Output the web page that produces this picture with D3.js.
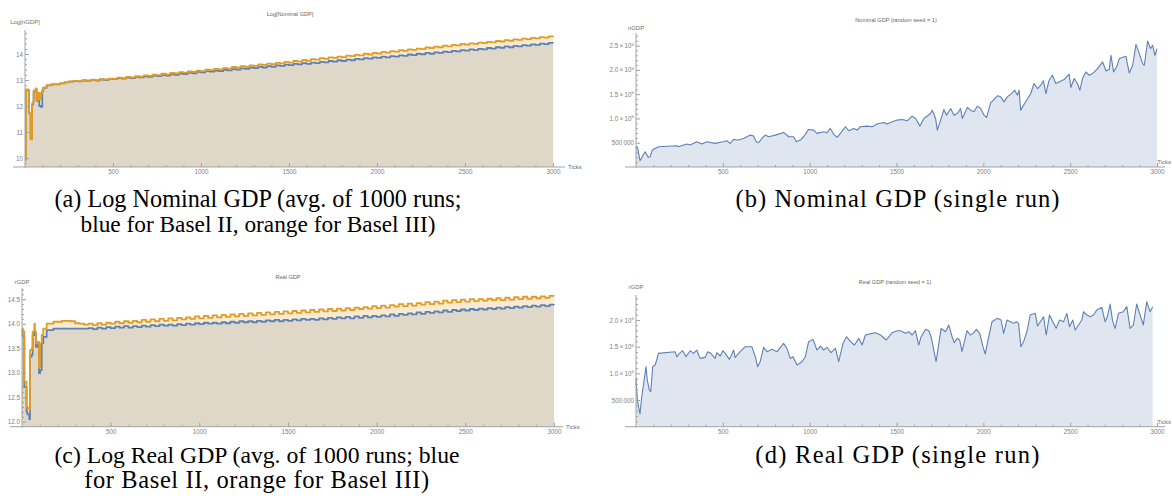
<!DOCTYPE html>
<html>
<head>
<meta charset="utf-8">
<script src="https://cdnjs.cloudflare.com/ajax/libs/d3/7.8.5/d3.min.js"></script>
<style>
body{margin:0;background:#fff;}
</style>
</head>
<body>
<svg width="1172" height="500"></svg>
<script>
// sampling grid of the averaged runs after the start-up phase
var tickGrid = d3.range(250, 3001, 25);

// (a) log nominal GDP, avg of 1000 runs
var nomEarlyTicks = [0, 6, 19, 23, 30, 32, 38, 40, 47, 49, 61, 66, 76, 81, 89, 98, 104, 123, 150, 200, 225];
var nomBasel2 = [9.95, 12.62, 12.60, 11.72, 11.72, 10.75, 10.75, 12.05, 12.15, 12.55, 12.65, 12.20, 12.45, 12.00, 11.97, 12.58, 12.70, 12.79, 12.83, 12.87, 12.91,
  12.94, 12.96, 12.95, 12.98, 12.97, 13.00, 12.98, 13.02, 13.00, 13.04,
  13.03, 13.07, 13.05, 13.09, 13.07, 13.12, 13.10, 13.14, 13.12, 13.17,
  13.15, 13.19, 13.17, 13.22, 13.20, 13.25, 13.23, 13.28, 13.26, 13.31,
  13.29, 13.34, 13.32, 13.36, 13.34, 13.39, 13.37, 13.42, 13.40, 13.45,
  13.43, 13.48, 13.46, 13.51, 13.48, 13.53, 13.51, 13.56, 13.54, 13.59,
  13.57, 13.62, 13.60, 13.65, 13.62, 13.67, 13.65, 13.70, 13.68, 13.73,
  13.71, 13.76, 13.73, 13.78, 13.76, 13.81, 13.79, 13.84, 13.82, 13.87,
  13.85, 13.90, 13.87, 13.92, 13.90, 13.95, 13.93, 13.98, 13.96, 14.01,
  13.99, 14.04, 14.01, 14.06, 14.04, 14.09, 14.07, 14.12, 14.10, 14.15,
  14.13, 14.18, 14.15, 14.20, 14.18, 14.23, 14.21, 14.26, 14.24, 14.29,
  14.26, 14.31, 14.29, 14.34, 14.32, 14.37, 14.35, 14.40, 14.38, 14.43,
  14.41];
var nomBasel3 = [9.92, 12.64, 12.62, 11.72, 11.72, 10.72, 10.72, 12.10, 12.17, 12.60, 12.68, 12.23, 12.50, 12.25, 12.50, 12.62, 12.72, 12.80, 12.84, 12.88, 12.92,
  12.95, 12.97, 12.96, 12.99, 12.98, 13.01, 12.99, 13.03, 13.02, 13.05,
  13.04, 13.09, 13.07, 13.12, 13.10, 13.15, 13.13, 13.18, 13.16, 13.21,
  13.19, 13.24, 13.22, 13.27, 13.25, 13.30, 13.28, 13.33, 13.31, 13.36,
  13.34, 13.40, 13.38, 13.43, 13.41, 13.46, 13.44, 13.50, 13.48, 13.53,
  13.51, 13.56, 13.54, 13.60, 13.58, 13.63, 13.61, 13.66, 13.64, 13.70,
  13.67, 13.73, 13.71, 13.77, 13.74, 13.80, 13.78, 13.84, 13.81, 13.87,
  13.85, 13.90, 13.88, 13.94, 13.92, 13.97, 13.95, 14.01, 13.98, 14.04,
  14.02, 14.08, 14.05, 14.11, 14.09, 14.15, 14.12, 14.18, 14.16, 14.21,
  14.19, 14.25, 14.23, 14.28, 14.26, 14.32, 14.29, 14.35, 14.33, 14.39,
  14.36, 14.41, 14.39, 14.44, 14.42, 14.47, 14.45, 14.50, 14.48, 14.53,
  14.51, 14.56, 14.54, 14.59, 14.57, 14.62, 14.60, 14.65, 14.63, 14.68,
  14.66];

// (c) log real GDP, avg of 1000 runs
var realEarlyTicks = [0, 4, 13, 17, 26, 30, 41, 45, 55, 60, 70, 73, 79, 88, 96, 102, 111, 120, 139, 177, 225];
var realBasel2 = [13.88, 13.75, 12.71, 12.71, 12.20, 12.15, 12.05, 13.33, 13.37, 13.77, 13.87, 13.80, 13.53, 13.60, 12.99, 13.05, 13.60, 13.73, 13.87, 13.90, 13.90,
  13.90, 13.90, 13.90, 13.90, 13.90, 13.91, 13.89, 13.92, 13.90, 13.93,
  13.91, 13.94, 13.92, 13.95, 13.92, 13.95, 13.93, 13.96, 13.94, 13.97,
  13.95, 13.98, 13.96, 13.98, 13.96, 13.99, 13.97, 14.00, 13.98, 14.01,
  13.99, 14.02, 14.00, 14.02, 14.00, 14.03, 14.01, 14.04, 14.02, 14.05,
  14.03, 14.05, 14.03, 14.06, 14.04, 14.07, 14.05, 14.08, 14.05, 14.08,
  14.06, 14.09, 14.07, 14.10, 14.08, 14.10, 14.08, 14.11, 14.09, 14.12,
  14.10, 14.13, 14.11, 14.14, 14.11, 14.15, 14.12, 14.16, 14.13, 14.16,
  14.14, 14.17, 14.15, 14.19, 14.16, 14.20, 14.18, 14.21, 14.19, 14.23,
  14.20, 14.24, 14.22, 14.25, 14.23, 14.27, 14.24, 14.28, 14.26, 14.29,
  14.27, 14.30, 14.28, 14.31, 14.29, 14.32, 14.30, 14.33, 14.31, 14.34,
  14.32, 14.35, 14.33, 14.36, 14.34, 14.37, 14.35, 14.38, 14.36, 14.39,
  14.38];
var realBasel3 = [13.90, 13.85, 12.82, 12.82, 12.31, 12.28, 12.24, 13.46, 13.50, 13.84, 14.00, 13.84, 13.60, 13.63, 13.10, 13.60, 13.77, 13.90, 14.00, 14.04, 14.06,
  14.06, 14.05, 14.01, 14.00, 13.98, 14.00, 13.97, 14.01, 13.98, 14.02,
  14.00, 14.04, 14.01, 14.05, 14.02, 14.06, 14.03, 14.08, 14.04, 14.09,
  14.05, 14.10, 14.06, 14.11, 14.07, 14.12, 14.09, 14.13, 14.10, 14.15,
  14.11, 14.16, 14.12, 14.17, 14.13, 14.18, 14.14, 14.19, 14.15, 14.20,
  14.16, 14.21, 14.17, 14.22, 14.18, 14.23, 14.19, 14.24, 14.20, 14.25,
  14.21, 14.26, 14.22, 14.27, 14.23, 14.28, 14.24, 14.29, 14.25, 14.30,
  14.26, 14.31, 14.27, 14.32, 14.28, 14.33, 14.30, 14.34, 14.31, 14.36,
  14.32, 14.37, 14.33, 14.38, 14.35, 14.40, 14.36, 14.41, 14.37, 14.42,
  14.39, 14.44, 14.40, 14.45, 14.41, 14.47, 14.43, 14.48, 14.44, 14.49,
  14.45, 14.50, 14.46, 14.50, 14.47, 14.51, 14.48, 14.52, 14.48, 14.53,
  14.49, 14.54, 14.50, 14.55, 14.51, 14.55, 14.52, 14.56, 14.53, 14.57,
  14.56];

// (b) nominal GDP, single run
var nomRunTicks = [0, 8, 23, 52, 71, 81, 94, 110, 129, 235,
  244, 292, 312, 350, 379, 408, 456, 500, 523, 542,
  562, 590, 619, 658, 677, 692, 706, 725, 744, 763,
  802, 850, 879, 908, 923, 946, 965, 994, 1023, 1042,
  1081, 1100, 1119, 1138, 1158, 1177, 1206, 1225, 1254, 1273,
  1292, 1331, 1360, 1388, 1427, 1446, 1475, 1504, 1533, 1562,
  1590, 1610, 1635, 1658, 1696, 1706, 1725, 1735, 1754, 1773,
  1788, 1812, 1831, 1850, 1869, 1879, 1908, 1927, 1946, 1965,
  1985, 2004, 2019, 2042, 2081, 2100, 2119, 2138, 2167, 2181,
  2196, 2206, 2215, 2235, 2273, 2292, 2312, 2331, 2346, 2360,
  2379, 2398, 2417, 2437, 2465, 2494, 2504, 2523, 2542, 2556,
  2571, 2590, 2610, 2629, 2658, 2687, 2706, 2725, 2735, 2750,
  2769, 2783, 2821, 2840, 2860, 2879, 2898, 2917, 2927, 2946,
  2962, 2975, 2988, 3000];
var nomRunValues = [383000, 418000, 130000, 315000, 199000, 212000, 349000, 383000, 418000, 438000,
  418000, 473000, 452000, 520000, 473000, 520000, 486000, 520000, 541000, 486000,
  568000, 555000, 589000, 657000, 637000, 520000, 500000, 589000, 657000, 623000,
  657000, 712000, 623000, 623000, 520000, 555000, 623000, 774000, 760000, 692000,
  726000, 705000, 795000, 678000, 610000, 692000, 829000, 747000, 795000, 760000,
  829000, 842000, 829000, 884000, 918000, 884000, 931000, 966000, 979000, 952000,
  1048000, 1000000, 842000, 1000000, 1103000, 1171000, 1000000, 760000, 966000, 1185000,
  1068000, 1205000, 1068000, 1103000, 1205000, 1000000, 1226000, 1171000, 1137000, 1253000,
  1205000, 1068000, 1020000, 1322000, 1466000, 1445000, 1342000, 1445000, 1527000, 1582000,
  1479000, 1582000, 1171000, 1294000, 1514000, 1719000, 1616000, 1685000, 1774000, 1514000,
  1787000, 1890000, 1719000, 1753000, 1801000, 1911000, 1637000, 1822000, 1719000, 1582000,
  1822000, 1959000, 1890000, 1925000, 2027000, 2164000, 1980000, 2007000, 2301000, 1959000,
  2075000, 2233000, 2281000, 1938000, 2096000, 2527000, 2336000, 2130000, 2096000, 2596000,
  2438000, 2507000, 2301000, 2438000];

// (d) real GDP, single run
var realRunTicks = [0, 8, 23, 33, 58, 65, 77, 85, 96, 110,
  119, 129, 225, 235, 250, 269, 288, 312, 331, 350,
  369, 398, 412, 431, 456, 465, 485, 500, 513, 538,
  562, 571, 600, 629, 667, 687, 700, 715, 735, 754,
  783, 812, 850, 869, 888, 904, 927, 956, 975, 994,
  1019, 1042, 1062, 1081, 1100, 1123, 1148, 1167, 1192, 1212,
  1235, 1258, 1283, 1302, 1321, 1360, 1379, 1408, 1441, 1475,
  1504, 1523, 1552, 1571, 1590, 1609, 1628, 1642, 1667, 1686,
  1699, 1728, 1757, 1782, 1801, 1820, 1833, 1849, 1864, 1877,
  1891, 1906, 1925, 1941, 1960, 1979, 1998, 2011, 2025, 2050,
  2079, 2102, 2117, 2136, 2155, 2174, 2190, 2203, 2216, 2232,
  2251, 2270, 2299, 2312, 2328, 2347, 2362, 2381, 2400, 2419,
  2439, 2462, 2481, 2496, 2515, 2529, 2548, 2567, 2577, 2596,
  2615, 2634, 2653, 2682, 2701, 2714, 2730, 2745, 2759, 2778,
  2806, 2826, 2845, 2864, 2883, 2906, 2921, 2941, 2960, 2975];
var realRunValues = [906000, 500000, 237000, 562000, 1125000, 875000, 687000, 656000, 1125000, 1156000,
  1250000, 1375000, 1406000, 1312000, 1375000, 1425000, 1312000, 1425000, 1375000, 1437000,
  1281000, 1300000, 1406000, 1375000, 1281000, 1387000, 1325000, 1425000, 1375000, 1262000,
  1437000, 1300000, 1406000, 1500000, 1500000, 1312000, 1125000, 1219000, 1487000, 1406000,
  1450000, 1406000, 1562000, 1469000, 1281000, 1312000, 1156000, 1219000, 1312000, 1594000,
  1637000, 1437000, 1512000, 1437000, 1487000, 1387000, 1469000, 1219000, 1562000, 1687000,
  1594000, 1531000, 1656000, 1531000, 1719000, 1750000, 1762000, 1719000, 1625000, 1762000,
  1800000, 1800000, 1750000, 1781000, 1719000, 1800000, 1531000, 1687000, 1825000, 1800000,
  1687000, 1219000, 1844000, 1781000, 1906000, 1687000, 1575000, 1656000, 1625000, 1406000,
  1594000, 1800000, 1719000, 1750000, 1825000, 1750000, 1500000, 1362000, 1594000, 1969000,
  2031000, 2000000, 1750000, 2000000, 1969000, 1937000, 1969000, 1937000, 1500000, 1594000,
  1781000, 2094000, 2125000, 1887000, 1969000, 2062000, 1719000, 2094000, 1969000, 1844000,
  2000000, 1969000, 2125000, 1875000, 2000000, 1812000, 1906000, 2000000, 2156000, 2094000,
  2062000, 2094000, 2187000, 2237000, 1969000, 2062000, 2300000, 1969000, 1844000, 2125000,
  2156000, 2250000, 1844000, 1906000, 2300000, 2062000, 1906000, 2344000, 2156000, 2250000];

// tick labels
var xMajor = [500, 1000, 1500, 2000, 2500, 3000];
var logNomYTicks = [10, 11, 12, 13, 14];
var logRealYTicks = [12.0, 12.5, 13.0, 13.5, 14.0, 14.5];
var nomRunYTicks = [500000, 1000000, 1500000, 2000000, 2500000];
var realRunYTicks = [500000, 1000000, 1500000, 2000000];

var blue = "#5e81b5", orange = "#e19c24";
var axisColor = "#a3a3a3", labelColor = "#808080";
var sans = "'Liberation Sans', Arial, sans-serif";
var serif = "'Liberation Serif', 'DejaVu Serif', serif";

var svg = d3.select("svg");

var styleAxis = function(sel)
{
  sel.attr("font-family", null).attr("font-size", null);
  sel.select(".domain").remove();
  sel.selectAll(".tick line").attr("stroke", axisColor);
  sel.selectAll(".tick text").attr("fill", labelColor)
     .style("font-size", "6.3px").style("font-family", sans);
};

var sciLabels = function(sel)
{
  sel.selectAll(".tick text").each(function(d) {
    var t = d3.select(this);
    t.text(null);
    if (d < 1000000) {
      t.text("500\u2009000");
    } else {
      t.append("tspan").text((d / 1000000).toFixed(1) + "\u2009\u00d7\u200910");
      t.append("tspan").attr("dy", -2.6).style("font-size", "4.4px").text("6");
    }
  });
};

var smallText = function(g, x, y, anchor, size, color, s)
{
  return g.append("text").attr("x", x).attr("y", y).attr("text-anchor", anchor)
          .attr("fill", color).style("font-size", size + "px").style("font-family", sans).text(s);
};

var drawPanel = function(p)
{
  var x = d3.scaleLinear().domain([0, 3000]).range(p.xRange);
  var y = d3.scaleLinear().domain(p.yDomain).range(p.yRange);
  var base = p.yRange[0];
  var curve = p.step ? d3.curveStepAfter : d3.curveLinear;
  var g = svg.append("g");

  var area = d3.area().curve(curve)
               .x(function(d){ return x(d[0]); })
               .y0(base)
               .y1(function(d){ return y(d[1]); });
  var line = d3.line().curve(curve)
               .x(function(d){ return x(d[0]); })
               .y(function(d){ return y(d[1]); });

  p.series.forEach(function(s) {
    g.append("path").datum(d3.zip(s.ticks, s.values))
     .attr("d", area).attr("fill", s.color).attr("fill-opacity", 0.2);
  });
  p.series.forEach(function(s) {
    g.append("path").datum(d3.zip(s.ticks, s.values))
     .attr("d", line).attr("fill", "none").attr("stroke", s.color)
     .attr("stroke-width", p.lineWidth).attr("stroke-linejoin", "round");
  });

  // axis lines
  g.append("line").attr("x1", p.xLine[0]).attr("x2", p.xLine[1])
   .attr("y1", base).attr("y2", base).attr("stroke", axisColor).attr("stroke-width", 1);
  g.append("line").attr("x1", x(0)).attr("x2", x(0))
   .attr("y1", base + 1).attr("y2", p.yRange[1]).attr("stroke", axisColor).attr("stroke-width", 1);

  // x ticks
  var xAx = g.append("g").attr("transform", "translate(0," + base + ")")
             .call(d3.axisBottom(x).tickValues(xMajor).tickSize(-4).tickPadding(3).tickFormat(d3.format("d")));
  styleAxis(xAx);
  var xMin = g.append("g").attr("transform", "translate(0," + base + ")")
              .call(d3.axisBottom(x).tickValues(d3.range(100, 3001, 100).filter(function(v){ return v % 500 != 0; }))
                      .tickSize(-2).tickFormat(""));
  styleAxis(xMin);

  // y ticks
  var yAx = g.append("g").attr("transform", "translate(" + x(0) + ",0)")
             .call(d3.axisLeft(y).tickValues(p.yTicks).tickSize(-4).tickPadding(2).tickFormat(p.yFormat));
  styleAxis(yAx);
  if (p.sci) sciLabels(yAx);
  var yMin = g.append("g").attr("transform", "translate(" + x(0) + ",0)")
              .call(d3.axisLeft(y).tickValues(p.yMinor).tickSize(-2).tickFormat(""));
  styleAxis(yMin);

  smallText(g, x(0), p.yLabelY, "middle", 6, "#707070", p.yLabel);
  // the right panels run up to the page edge, so their axis name sits above the axis end
  if (p.xLine[1] + 18 < 1172) {
    smallText(g, p.xLine[1] + 3, base + 2, "start", 6, "#707070", "Ticks");
  } else {
    smallText(g, 1171, base - 3, "end", 6, "#707070", "Ticks");
  }
  smallText(g, p.titleX, p.titleY, "middle", 5.6, "#666", p.title);
};

var minorTicks = function(lo, hi, step, major)
{
  return d3.range(lo, hi, step).filter(function(v) {
    return !major.some(function(m){ return Math.abs(m - v) < step / 10; });
  });
};

drawPanel({
  xRange: [25, 553], yDomain: [9.654, 14.923], yRange: [167, 30], xLine: [13, 565],
  step: true, lineWidth: 1.8, yFormat: d3.format("d"),
  yTicks: logNomYTicks, yMinor: minorTicks(9.8, 14.9, 0.2, logNomYTicks),
  yLabel: "Log[nGDP]", yLabelY: 24, title: "Log[Nominal GDP]", titleX: 290, titleY: 16,
  series: [
    {ticks: nomEarlyTicks.concat(tickGrid), values: nomBasel2, color: blue},
    {ticks: nomEarlyTicks.concat(tickGrid), values: nomBasel3, color: orange}
  ]
});

drawPanel({
  xRange: [636, 1157], yDomain: [0, 2760000], yRange: [167, 33], xLine: [625, 1165],
  step: false, lineWidth: 1.1, sci: true, yFormat: null,
  yTicks: nomRunYTicks, yMinor: minorTicks(100000, 2750000, 100000, nomRunYTicks),
  yLabel: "nGDP", yLabelY: 29.5, title: "Nominal GDP (random seed = 1)", titleX: 896, titleY: 22,
  series: [{ticks: nomRunTicks, values: nomRunValues, color: blue}]
});

drawPanel({
  xRange: [22, 554], yDomain: [11.898, 14.729], yRange: [426.7, 288], xLine: [10, 563],
  step: true, lineWidth: 1.8, yFormat: d3.format(".1f"),
  yTicks: logRealYTicks, yMinor: minorTicks(12.0, 14.75, 0.1, logRealYTicks),
  yLabel: "rGDP", yLabelY: 284, title: "Real GDP", titleX: 288, titleY: 279,
  series: [
    {ticks: realEarlyTicks.concat(tickGrid), values: realBasel2, color: blue},
    {ticks: realEarlyTicks.concat(tickGrid), values: realBasel3, color: orange}
  ]
});

drawPanel({
  xRange: [636, 1157], yDomain: [0, 2469000], yRange: [426.7, 295], xLine: [625, 1165],
  step: false, lineWidth: 1.1, sci: true, yFormat: null,
  yTicks: realRunYTicks, yMinor: minorTicks(100000, 2450000, 100000, realRunYTicks),
  yLabel: "rGDP", yLabelY: 288.5, title: "Real GDP (random seed = 1)", titleX: 895, titleY: 283.5,
  series: [{ticks: realRunTicks, values: realRunValues, color: blue}]
});

// captions under each panel: grow the serif face towards the width it takes in the figure,
// then close the last gap with a little letter spacing
var caption = function(lines, cx, baselines, widths)
{
  lines.forEach(function(t, i) {
    var txt = svg.append("text")
                 .attr("x", cx).attr("y", baselines[i]).attr("text-anchor", "middle")
                 .attr("fill", "#000")
                 .style("font-family", serif).style("font-size", "22px").text(t);
    var w = txt.node().getComputedTextLength();
    var fs = Math.max(21, Math.min(24.5, 22 * widths[i] / w));
    txt.style("font-size", fs.toFixed(2) + "px");
    w = txt.node().getComputedTextLength();
    txt.style("letter-spacing", ((widths[i] - w) / (t.length - 1)).toFixed(2) + "px");
  });
};

caption(["(a) Log Nominal GDP (avg.  of 1000 runs;", "blue for Basel II, orange for Basel III)"], 258, [207, 232], [407, 355]);
caption(["(b) Nominal GDP (single run)"], 898, [207], [324]);
caption(["(c) Log Real GDP (avg.  of 1000 runs; blue", "for Basel II, orange for Basel III)"], 257, [463, 488], [405, 345]);
caption(["(d) Real GDP (single run)"], 898, [463], [284]);
</script>
</body>
</html>
